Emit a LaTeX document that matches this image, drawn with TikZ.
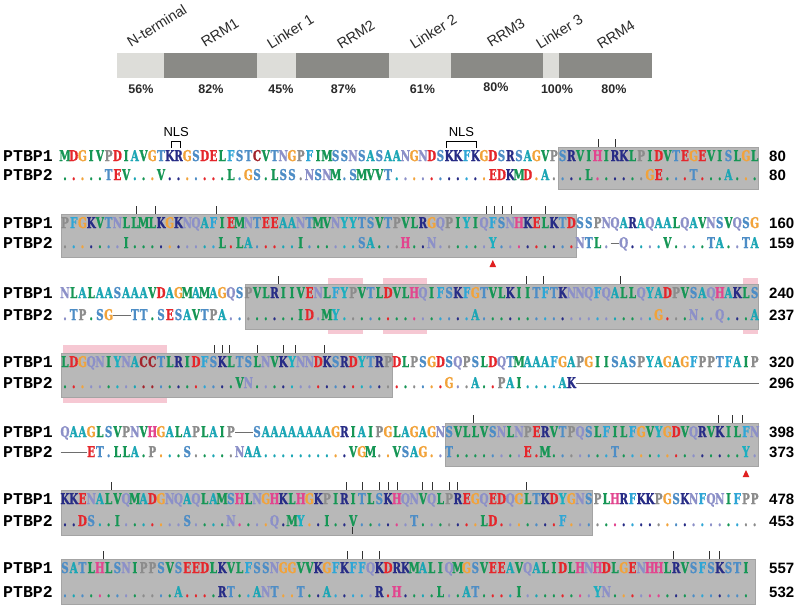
\documentclass[tikz,border=0pt]{standalone}
\usepackage{fontspec}
\setmainfont{Liberation Sans}
\newfontfamily\resfont{DejaVu Serif Bold}[FakeStretch=0.7, FakeBold=1.2]
\newfontfamily\labfont{Liberation Mono Bold}
\newfontfamily\numfont{Liberation Sans Bold}
\definecolor{rA}{HTML}{1BA6B5}
\definecolor{rC}{HTML}{A2232B}
\definecolor{rD}{HTML}{E5262B}
\definecolor{rE}{HTML}{E5262B}
\definecolor{rF}{HTML}{2EA6D6}
\definecolor{rG}{HTML}{F2A33A}
\definecolor{rH}{HTML}{E2458F}
\definecolor{rI}{HTML}{169655}
\definecolor{rK}{HTML}{272C86}
\definecolor{rL}{HTML}{169655}
\definecolor{rM}{HTML}{169655}
\definecolor{rN}{HTML}{8C90C8}
\definecolor{rP}{HTML}{8C8C8C}
\definecolor{rQ}{HTML}{8C90C8}
\definecolor{rR}{HTML}{272C86}
\definecolor{rS}{HTML}{4D8DC6}
\definecolor{rT}{HTML}{4D8DC6}
\definecolor{rV}{HTML}{169655}
\definecolor{rW}{HTML}{2EA6D6}
\definecolor{rY}{HTML}{1BAFC0}
\definecolor{gapgray}{HTML}{6E6E6E}
\definecolor{boxgray}{HTML}{B8B8B8}
\definecolor{boxedge}{HTML}{A4A4A4}
\definecolor{pinkbox}{HTML}{F6C8D3}
\definecolor{barlight}{HTML}{DDDDD9}
\definecolor{bardark}{HTML}{8A8A86}
\definecolor{txtdark}{HTML}{2A2A2A}
\definecolor{tickcol}{HTML}{333333}
\definecolor{redtri}{HTML}{E02020}
\newcommand\gapdash{\rule[3.8pt]{8.9pt}{1.1pt}}
\def\dashch{-}
\def\dotch{.}
\newcommand\PutOne[4]{% id, col, y, char
  \edef\tmpch{#4}%
  \ifx\tmpch\dashch
    \node[res,text=gapgray,name=a#1c#2] at ({65+(#2-1)*8.73},#3) {\gapdash};%
  \else
    \edef\tmpcol{r\tmpch}%
    \node[res,text=\tmpcol,name=a#1c#2] at ({65+(#2-1)*8.73},#3) {\tmpch};%
  \fi}
\newcommand\PutTwo[5]{% id, col, y, char, ref
  \edef\tmpch{#4}\edef\tmpref{#5}%
  \ifx\tmpch\dashch
    \node[res,text=gapgray,name=b#1c#2] at ({65+(#2-1)*8.73},#3) {\gapdash};%
  \else\ifx\tmpch\dotch
    \edef\tmpcol{r\tmpref}%
    \node[res,text=\tmpcol,name=b#1c#2] at ({65+(#2-1)*8.73},#3) {.};%
  \else
    \edef\tmpcol{r\tmpch}%
    \node[res,text=\tmpcol,name=b#1c#2] at ({65+(#2-1)*8.73},#3) {\tmpch};%
  \fi\fi}
\ExplSyntaxOn
\tl_new:N \l_myaa_tl
\tl_new:N \l_mybb_tl
\tl_new:N \l_myca_tl
\tl_new:N \l_mycb_tl
\NewDocumentCommand \alnrow { m m m m m }
 {
   \tl_set:Nn \l_myaa_tl {#4}
   \tl_set:Nn \l_mybb_tl {#5}
   \int_step_inline:nn { \tl_count:N \l_myaa_tl }
    {
      \tl_set:Nx \l_myca_tl { \tl_item:Nn \l_myaa_tl {##1} }
      \tl_set:Nx \l_mycb_tl { \tl_item:Nn \l_mybb_tl {##1} }
      \PutOne {#1} {##1} {#2} {\l_myca_tl}
      \PutTwo {#1} {##1} {#3} {\l_mycb_tl} {\l_myca_tl}
    }
 }
\ExplSyntaxOff
\begin{document}
\begin{tikzpicture}[x=1pt,y=-1pt,
  res/.style={inner sep=0pt,outer sep=0pt,anchor=base,font=\resfont\fontsize{14.8}{15}\selectfont},
  seqlab/.style={inner sep=0pt,anchor=base west,font=\labfont\fontsize{16.5}{18}\selectfont,text=black},
  seqnum/.style={inner sep=0pt,anchor=base west,font=\numfont\fontsize{15}{16}\selectfont,text=black},
  domlab/.style={inner sep=0pt,anchor=base west,rotate=32,font=\fontsize{14.5}{15}\selectfont,text=txtdark},
  pct/.style={inner sep=0pt,font=\numfont\fontsize{12.5}{13}\selectfont,text=txtdark},
  nls/.style={inner sep=0pt,font=\fontsize{13}{14}\selectfont,text=black},
  graybox/.style={fill=boxgray,draw=boxedge,line width=0.5pt},
  pinkshade/.style={fill=pinkbox,draw=none},
  tickmark/.style={draw=tickcol,line width=0.9pt},
  bracket/.style={draw=black,line width=0.9pt},
  marker/.style={fill=redtri,draw=none}]
\useasboundingbox (0,0) rectangle (800,606);
\fill[white] (0,0) rectangle (800,606);

% ---------- domain bar ----------
\fill[barlight] (117,53) rectangle (163.6,78);
\fill[bardark]  (163.6,53) rectangle (256.8,78);
\fill[barlight] (256.8,53) rectangle (295.9,78);
\fill[bardark]  (295.9,53) rectangle (388.5,78);
\fill[barlight] (388.5,53) rectangle (450.5,78);
\fill[bardark]  (450.5,53) rectangle (543.3,78);
\fill[barlight] (543.3,53) rectangle (558.8,78);
\fill[bardark]  (558.8,53) rectangle (652,78);
\node[domlab] (dnt) at (131,48) {N-terminal};
\node[domlab] (dr1) at (205,48) {RRM1};
\node[domlab] (dl1) at (271,50) {Linker 1};
\node[domlab] (dr2) at (341,50) {RRM2};
\node[domlab] (dl2) at (414,50) {Linker 2};
\node[domlab] (dr3) at (491,48) {RRM3};
\node[domlab] (dl3) at (540,50) {Linker 3};
\node[domlab] (dr4) at (601,50) {RRM4};
\node[pct] (p1) at (141,89) {56\%};
\node[pct] (p2) at (211,89) {82\%};
\node[pct] (p3) at (281,89) {45\%};
\node[pct] (p4) at (343.5,89) {87\%};
\node[pct] (p5) at (422.5,89) {61\%};
\node[pct] (p6) at (496,87) {80\%};
\node[pct] (p7) at (557,89) {100\%};
\node[pct] (p8) at (614,89) {80\%};

% ---------- shading ----------
\fill[pinkshade] (328,278) rectangle (363,334);
\fill[pinkshade] (383,278) rectangle (427,334);
\fill[pinkshade] (743,278) rectangle (758,334);
\fill[pinkshade] (63,345) rectangle (167,403);
\path[graybox] (558.5,147) rectangle (758,189);
\path[graybox] (61,214) rectangle (576,257);
\path[graybox] (245,284) rectangle (758,329);
\path[graybox] (61,353) rectangle (392,397);
\path[graybox] (445,423) rectangle (758,466);
\path[graybox] (61,490) rectangle (592,535);
\path[graybox] (61,559) rectangle (755,604);

% ---------- ticks ----------
\foreach \x in {598,615} \draw[tickmark] (\x,139) -- (\x,146.5);
\foreach \x in {136,155,216,486,494,502,511,545} \draw[tickmark] (\x,206) -- (\x,213.5);
\foreach \x in {278,526,543,620} \draw[tickmark] (\x,276) -- (\x,283.5);
\foreach \x in {214,222,229,257,283,295,324} \draw[tickmark] (\x,345) -- (\x,352.5);
\foreach \x in {473,718,732,742} \draw[tickmark] (\x,415) -- (\x,422.5);
\foreach \x in {111,346,362,379,388,397,422,432,449,457,526} \draw[tickmark] (\x,482) -- (\x,489.5);
\draw[tickmark] (352,527) -- (352,534);
\foreach \x in {103,347,362,379,673,709,719} \draw[tickmark] (\x,551) -- (\x,558.5);

% ---------- NLS ----------
\node[nls] (nls1) at (176.2,132) {NLS};
\node[nls] (nls2) at (461.5,132) {NLS};
\draw[bracket] (171.7,148) -- (171.7,141) -- (180.7,141) -- (180.7,148);
\draw[bracket] (446.7,148) -- (446.7,141) -- (476,141) -- (476,148);

% ---------- red markers ----------
\fill[marker] (492.8,260) -- (489.5,267) -- (496.1,267) -- cycle;
\fill[marker] (746.0,470) -- (742.7,477) -- (749.3,477) -- cycle;

% ---------- row labels and numbers ----------
\foreach \r/\ya/\yb/\na/\nb in {1/161/180/80/80, 2/228/248/160/159, 3/298/320/240/237, 4/367/388/320/296, 5/437/457/398/373, 6/504/526/478/453, 7/573/597/557/532}{
  \node[seqlab] (la\r) at (3,\ya) {PTBP1};
  \node[seqlab] (lb\r) at (3,\yb) {PTBP2};
  \node[seqnum] (na\r) at (769,\ya) {\na};
  \node[seqnum] (nb\r) at (769,\yb) {\nb};
}

% ---------- alignment ----------
\alnrow{1}{161}{180}{MDGIVPDIAVGTKRGSDELFSTCVTNGPFIMSSNSASAANGNDSKKFKGDSRSAGVPSRVIHIRKLPIDVTEGEVISLGL}{.....TEV...V.......L.GS.LSS.NSNM.SMVVT...........EDKMD.A....L......GE...T...A...}
\alnrow{2}{228}{248}{PFGKVTNLLMLKGKNQAFIEMNTEEAANTMVNYYTSVTPVLRGQPIYIQFSNHKELKTDSSPNQARAQAALQAVNSVQSG}{.......I..........L.LA.....I......SA...H..N......Y.........NTL.-Q....V....TA..TA}
\alnrow{3}{298}{320}{NLALAASAAAVDAGMAMAGQSPVLRIIVENLFYPVTLDVLHQIFSKFGTVLKIITFTKNNQFQALLQYADPVSAQHAKLS}{.TP.SG--TT.SESAVTPA........ID.MY...............A....................G...N..Q...A}
\alnrow{4}{367}{388}{LDGQNIYNACCTLRIDFSKLTSLNVKYNNDKSRDYTRPDLPSGDSQPSLDQTMAAAFGAPGIISASPYAGAGFPPTFAIP}{....................VN......................G..A..PAI....AK---------------------}
\alnrow{5}{437}{457}{QAAGLSVPNVHGALAPLAIP--SAAAAAAAAGRIAIPGLAGAGNSVLLVSNLNPERVTPQSLFILFGVYGDVQRVKILFN}{---ET.LLA.P...S.....NAA..........VGM..VSAG..T........E.M.......T..............Y.}
\alnrow{6}{504}{526}{KKENALVQMADGNQAQLAMSHLNGHKLHGKPIRITLSKHQNVQLPREGQEDQGLTKDYGNSPLHRFKKPGSKNFQNIFPP}{..DS..I.......S....N....Q.MY..I..V......T.......LD.......F......................}
\alnrow{7}{573}{597}{SATLHLSNIPPSVSEEDLKVLFSSNGGVVKGFKFFQKDRKMALIQMGSVEEAVQALIDLHNHDLGENHHLRVSFSKSTI}{.............A....RT..ANT..T..A.....R.H....L..AT....I........YN................}
\end{tikzpicture}
\end{document}
